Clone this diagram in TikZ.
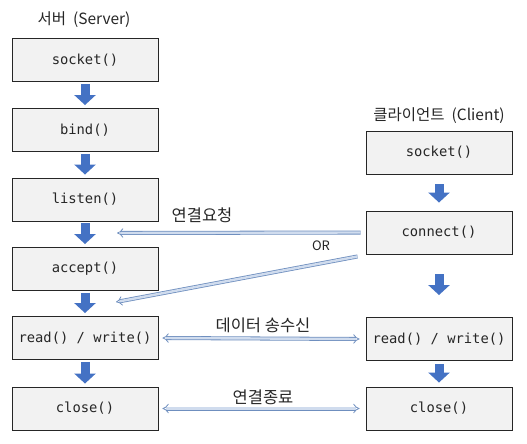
\documentclass[tikz,border=0pt]{standalone}
\usepackage{fontspec}
\setmainfont{Noto Sans CJK KR}
\newfontfamily\monofont{DejaVu Sans Mono}
\usetikzlibrary{arrows.meta}
\definecolor{boxfill}{HTML}{F2F2F2}
\definecolor{blockblue}{HTML}{4472C4}
\definecolor{hollowedge}{HTML}{6F8FBF}
\definecolor{hollowfill}{HTML}{D0DCEE}
\begin{document}
\begin{tikzpicture}[x=1pt,y=-1pt,
  box/.style={draw=black!85, line width=0.9pt, fill=boxfill, minimum width=146pt, minimum height=43pt, inner sep=0pt, font=\monofont\fontsize{13.8}{16}\selectfont, text=black!85},
  flow/.style={blockblue, line width=9pt, -{Triangle[width=21pt,length=10pt]}},
  hollow/.style={draw=hollowedge, line width=0.8pt, double=hollowfill, double distance=2.4pt, -{Implies}},
  lbl/.style={font=\fontsize{16.5}{19}\selectfont, text=black!85, inner sep=0pt},
  hdr/.style={font=\fontsize{15.5}{18}\selectfont, text=black!85, inner sep=0pt},
]
\useasboundingbox (0,0) rectangle (527,444);
% server
\node[hdr] (shdr) at (84,20) {서버\hspace{0.45em}(Server)};
\node[box] (s1) at (85,60) {socket()};
\node[box] (s2) at (85,130) {bind()};
\node[box] (s3) at (85,199.5) {listen()};
\node[box] (s4) at (85,269) {accept()};
\node[box] (s5) at (85,338) {read() / write()};
\node[box] (s6) at (85,408.5) {close()};
% client
\node[hdr] (chdr) at (439,116) {클라이언트\hspace{0.45em}(Client)};
\node[box] (c1) at (439,152.5) {socket()};
\node[box] (c2) at (439,232.5) {connect()};
\node[box] (c3) at (439,339) {read() / write()};
\node[box] (c4) at (439,408.5) {close()};
% flow arrows
\draw[flow] ([yshift=-2pt]s1.south) -- ([yshift=3pt]s2.north);
\draw[flow] ([yshift=-2pt]s2.south) -- ([yshift=3pt]s3.north);
\draw[flow] ([yshift=-2pt]s3.south) -- ([yshift=3pt]s4.north);
\draw[flow] ([yshift=-2pt]s4.south) -- ([yshift=3pt]s5.north);
\draw[flow] ([yshift=-2pt]s5.south) -- ([yshift=3pt]s6.north);
\draw[flow] ([yshift=-10pt]c1.south) -- ([yshift=8pt]c2.north);
\draw[flow] ([yshift=-20pt]c2.south) -- ([yshift=22pt]c3.north);
\draw[flow] ([yshift=-3pt]c3.south) -- ([yshift=4pt]c4.north);
% hollow connectors
\coordinate (req) at (117,233);
\coordinate (acc) at (116,302);
\draw[hollow] ([xshift=-5pt]c2.west) -- (req);
\draw[hollow] ([xshift=-8pt,yshift=-2pt]c2.south west) -- (acc);
\draw[hollow, {Implies}-{Implies}] ([xshift=4pt]s5.east) -- ([xshift=-6pt]c3.west);
\draw[hollow, {Implies}-{Implies}] ([xshift=4pt]s6.east) -- ([xshift=-6pt]c4.west);
% labels
\node[lbl] (l1) at (202,215) {연결요청};
\node[font=\fontsize{13}{15}\selectfont, text=black!85, inner sep=0pt] (l2) at (321,246) {OR};
\node[lbl] (l3) at (263,325) {데이터 송수신};
\node[lbl] (l4) at (263,397) {연결종료};
\end{tikzpicture}
\end{document}
